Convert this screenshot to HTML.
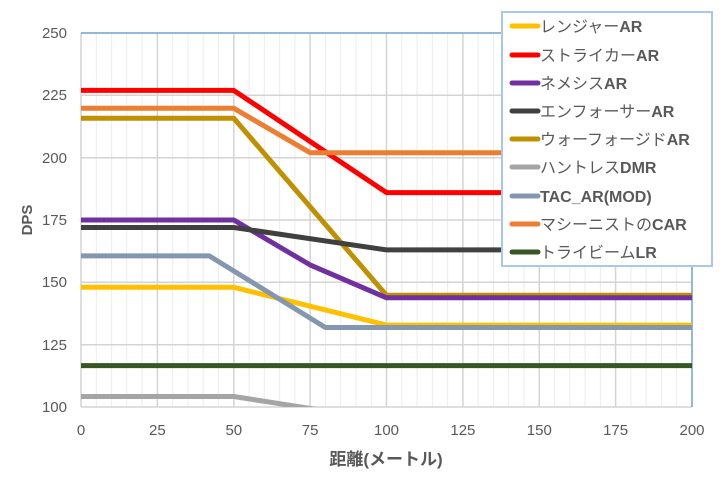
<!DOCTYPE html>
<html><head><meta charset="utf-8"><style>
body{margin:0;background:#fff;width:720px;height:480px;overflow:hidden}
svg text{font-family:"Liberation Sans","Noto Sans CJK JP",sans-serif;fill:#595959}
tspan.b{font-weight:bold}
</style></head><body>
<svg width="720" height="480" viewBox="0 0 720 480" xmlns="http://www.w3.org/2000/svg">
<g stroke="#ececec" stroke-width="1">
<line x1="96.3" y1="33" x2="96.3" y2="407"/><line x1="111.6" y1="33" x2="111.6" y2="407"/><line x1="126.8" y1="33" x2="126.8" y2="407"/><line x1="142.1" y1="33" x2="142.1" y2="407"/>
<line x1="172.7" y1="33" x2="172.7" y2="407"/><line x1="188" y1="33" x2="188" y2="407"/><line x1="203.2" y1="33" x2="203.2" y2="407"/><line x1="218.5" y1="33" x2="218.5" y2="407"/>
<line x1="249.1" y1="33" x2="249.1" y2="407"/><line x1="264.3" y1="33" x2="264.3" y2="407"/><line x1="279.6" y1="33" x2="279.6" y2="407"/><line x1="294.9" y1="33" x2="294.9" y2="407"/>
<line x1="325.4" y1="33" x2="325.4" y2="407"/><line x1="340.7" y1="33" x2="340.7" y2="407"/><line x1="356" y1="33" x2="356" y2="407"/><line x1="371.3" y1="33" x2="371.3" y2="407"/>
<line x1="401.8" y1="33" x2="401.8" y2="407"/><line x1="417.1" y1="33" x2="417.1" y2="407"/><line x1="432.4" y1="33" x2="432.4" y2="407"/><line x1="447.6" y1="33" x2="447.6" y2="407"/>
<line x1="478.2" y1="33" x2="478.2" y2="407"/><line x1="493.5" y1="33" x2="493.5" y2="407"/><line x1="508.7" y1="33" x2="508.7" y2="407"/><line x1="524" y1="33" x2="524" y2="407"/>
<line x1="554.6" y1="33" x2="554.6" y2="407"/><line x1="569.8" y1="33" x2="569.8" y2="407"/><line x1="585.1" y1="33" x2="585.1" y2="407"/><line x1="600.4" y1="33" x2="600.4" y2="407"/>
<line x1="630.9" y1="33" x2="630.9" y2="407"/><line x1="646.2" y1="33" x2="646.2" y2="407"/><line x1="661.5" y1="33" x2="661.5" y2="407"/><line x1="676.7" y1="33" x2="676.7" y2="407"/>
</g>
<g stroke="#d4d4d4" stroke-width="1.5">
<line x1="81" y1="33" x2="81" y2="407"/><line x1="157.4" y1="33" x2="157.4" y2="407"/><line x1="233.8" y1="33" x2="233.8" y2="407"/><line x1="310.1" y1="33" x2="310.1" y2="407"/><line x1="386.5" y1="33" x2="386.5" y2="407"/><line x1="462.9" y1="33" x2="462.9" y2="407"/><line x1="539.3" y1="33" x2="539.3" y2="407"/><line x1="615.6" y1="33" x2="615.6" y2="407"/>
<line x1="81" y1="95.3" x2="692" y2="95.3"/><line x1="81" y1="157.7" x2="692" y2="157.7"/><line x1="81" y1="220" x2="692" y2="220"/><line x1="81" y1="282.3" x2="692" y2="282.3"/><line x1="81" y1="344.7" x2="692" y2="344.7"/><line x1="81" y1="407" x2="692" y2="407"/>
</g>
<line x1="81" y1="33" x2="692" y2="33" stroke="#6fa0d0" stroke-width="1.5"/>
<line x1="692" y1="33" x2="692" y2="407" stroke="#6fa0d0" stroke-width="1.5"/>
<svg x="81" y="33" width="611" height="374" overflow="hidden">
<g fill="none" stroke-width="5" stroke-linejoin="round" transform="translate(-81,-33)">
<polyline stroke="#A5A5A5" points="81,396.5 233.8,396.5 320,410"/>
<polyline stroke="#375623" points="81,365.6 692,365.6"/>
<polyline stroke="#FFC000" points="81,287.3 233.8,287.3 386.5,325.1 692,325.1"/>
<polyline stroke="#8497B0" points="81,255.9 209.3,255.9 325.4,327.5 692,327.5"/>
<polyline stroke="#BF9000" points="81,118.3 233.8,118.3 386.5,295.3 692,295.3"/>
<polyline stroke="#7030A0" points="81,220 233.8,220 310.1,264.9 386.5,297.8 692,297.8"/>
<polyline stroke="#404040" points="81,227.5 233.8,227.5 386.5,249.9 692,249.9"/>
<polyline stroke="#FF0000" points="81,90.4 233.8,90.4 386.5,192.6 692,192.6"/>
<polyline stroke="#ED7D31" points="81,108.3 233.8,108.3 310.1,152.7 692,152.7"/>
</g></svg>
<g font-size="15" text-anchor="end">
<text x="67" y="38">250</text><text x="67" y="100">225</text><text x="67" y="163">200</text><text x="67" y="225">175</text><text x="67" y="287">150</text><text x="67" y="350">125</text><text x="67" y="412">100</text>
</g>
<g font-size="15" text-anchor="middle">
<text x="81" y="435">0</text><text x="157.4" y="435">25</text><text x="233.8" y="435">50</text><text x="310.1" y="435">75</text><text x="386.5" y="435">100</text><text x="462.9" y="435">125</text><text x="539.3" y="435">150</text><text x="615.6" y="435">175</text><text x="692" y="435">200</text>
</g>
<text x="386" y="465" font-size="17" font-weight="bold" text-anchor="middle">距離(メートル)</text>
<text transform="translate(32,220) rotate(-90)" font-size="15" font-weight="bold" text-anchor="middle">DPS</text>
<rect x="502" y="12" width="210" height="254" fill="#fff" stroke="#a9c6ee" stroke-width="2"/>
<g stroke-width="5" stroke-linecap="round">
<line x1="512" y1="26" x2="538" y2="26" stroke="#FFC000"/>
<line x1="512" y1="55" x2="538" y2="55" stroke="#FF0000"/>
<line x1="512" y1="83" x2="538" y2="83" stroke="#7030A0"/>
<line x1="512" y1="111" x2="538" y2="111" stroke="#404040"/>
<line x1="512" y1="139" x2="538" y2="139" stroke="#BF9000"/>
<line x1="512" y1="167" x2="538" y2="167" stroke="#A5A5A5"/>
<line x1="512" y1="196" x2="538" y2="196" stroke="#8497B0"/>
<line x1="512" y1="224" x2="538" y2="224" stroke="#ED7D31"/>
<line x1="512" y1="252" x2="538" y2="252" stroke="#375623"/>
</g>
<g font-size="16">
<text x="540" y="32">レンジャー<tspan class="b">AR</tspan></text>
<text x="540" y="61">ストライカー<tspan class="b">AR</tspan></text>
<text x="540" y="89">ネメシス<tspan class="b">AR</tspan></text>
<text x="540" y="117">エンフォーサー<tspan class="b">AR</tspan></text>
<text x="540" y="145">ウォーフォージド<tspan class="b">AR</tspan></text>
<text x="540" y="173">ハントレス<tspan class="b">DMR</tspan></text>
<text x="540" y="202"><tspan class="b">TAC_AR(MOD)</tspan></text>
<text x="540" y="230">マシーニストの<tspan class="b">CAR</tspan></text>
<text x="540" y="258">トライビーム<tspan class="b">LR</tspan></text>
</g>
</svg>
</body></html>
